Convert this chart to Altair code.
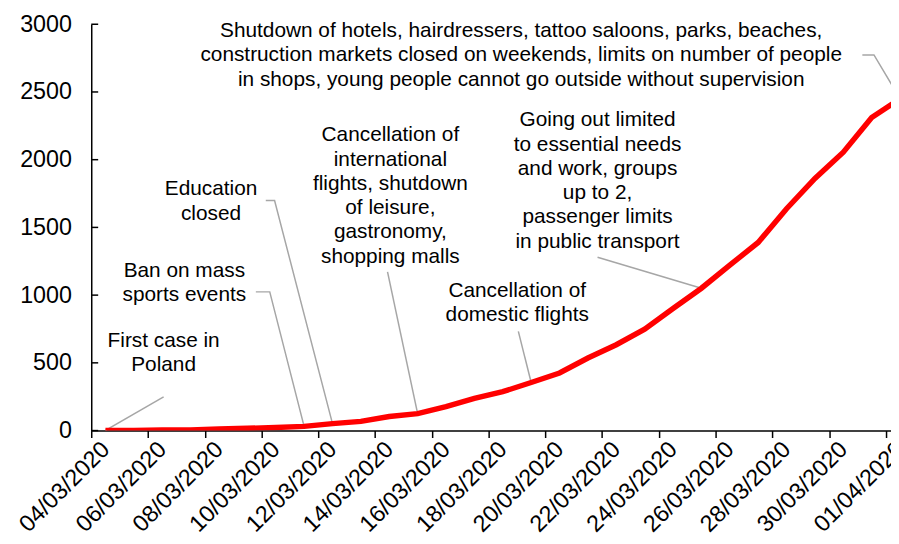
import altair as alt
import pandas as pd

# ---- data ----
dates = ["04/03/2020", "05/03/2020", "06/03/2020", "07/03/2020", "08/03/2020",
         "09/03/2020", "10/03/2020", "11/03/2020", "12/03/2020", "13/03/2020",
         "14/03/2020", "15/03/2020", "16/03/2020", "17/03/2020", "18/03/2020",
         "19/03/2020", "20/03/2020", "21/03/2020", "22/03/2020", "23/03/2020",
         "24/03/2020", "25/03/2020", "26/03/2020", "27/03/2020", "28/03/2020",
         "29/03/2020", "30/03/2020", "31/03/2020", "01/04/2020"]
cases = [1, 1, 5, 5, 11, 17, 22, 31, 51, 68, 104, 125, 177, 238, 287, 355, 425,
         536, 634, 749, 901, 1051, 1221, 1389, 1638, 1862, 2055, 2311, 2450]
y_ticks = [0, 500, 1000, 1500, 2000, 2500, 3000]

ann_text = [
    ["First case in", "Poland"],
    ["Ban on mass", "sports events"],
    ["Education", "closed"],
    ["Cancellation of", "international", "flights, shutdown", "of leisure,",
     "gastronomy,", "shopping malls"],
    ["Cancellation of", "domestic flights"],
    ["Going out limited", "to essential needs", "and work, groups", "up to 2,",
     "passenger limits", "in public transport"],
    ["Shutdown of hotels, hairdressers, tattoo saloons, parks, beaches,",
     "construction markets closed on weekends, limits on number of people",
     "in shops, young people cannot go outside without supervision"],
]
# position of the first line of each note (day index, value)
ann_x = [2.05, 2.78, 3.72, 10.04, 14.51, 17.34, 14.65]
ann_y = [661, 1180, 1780, 2180, 1032, 2290, 2950]

# leader lines: start point, optional elbow x (same height), target day
lead_start_x = [2.05, 5.30, 5.65, 9.94, 14.55, 17.34, 26.67]
lead_start_y = [249, 1024, 1698, 1171, 732, 1280, 2773]
lead_elbow_x = [None, 5.79, 5.96, None, None, None, 27.08]
lead_target = [0, 7, 8, 11, 15, 21, 28]

# ---- tables ----
series = pd.DataFrame({"day": list(range(len(cases))), "cases": cases, "date": dates})

rows = []
for i in range(len(lead_target)):
    seq = 0
    rows.append({"id": i, "seq": seq, "day": lead_start_x[i], "cases": lead_start_y[i]})
    if lead_elbow_x[i] is not None:
        seq += 1
        rows.append({"id": i, "seq": seq, "day": lead_elbow_x[i], "cases": lead_start_y[i]})
    seq += 1
    rows.append({"id": i, "seq": seq, "day": lead_target[i], "cases": cases[lead_target[i]]})
leaders = pd.DataFrame(rows)

notes = pd.DataFrame({"day": ann_x, "cases": ann_y, "lines": ann_text})
ticks_df = pd.DataFrame({"cases": y_ticks})

# ---- layout ----
W, H = 807, 410
n_visible = 28.18
half_cat = W / n_visible / 2
FONT = "Liberation Sans"

label_arr = "[" + ",".join("'" + d + "'" for d in dates) + "]"
x_axis = alt.Axis(
    values=[-0.5 + 2 * k for k in range(15)],
    labelExpr=label_arr + "[round(datum.value + 0.5)]",
    labelOffset=half_cat,
    labelAngle=-45, labelAlign="right", labelBaseline="middle",
    labelPadding=8, labelFontSize=23.5, labelFont=FONT, labelColor="black",
    labelOverlap=False, labelFlush=False,
    tickSize=7, tickColor="black", tickWidth=1.5,
    domainColor="black", domainWidth=1.5, grid=False, title=None,
)
y_axis = alt.Axis(
    values=y_ticks, format="d", ticks=False, tickSize=0, labelPadding=20,
    labelFontSize=23.5, labelFont=FONT, labelColor="black",
    domainColor="black", domainWidth=1.5, grid=False, title=None,
)
X = alt.X("day:Q", scale=alt.Scale(domain=[-0.5, 27.68], nice=False, zero=False), axis=x_axis)
Y = alt.Y("cases:Q", scale=alt.Scale(domain=[0, 3000], nice=False), axis=y_axis)

line = alt.Chart(series).mark_line(color="#FF0000", strokeWidth=5.5, clip=True).encode(
    x=X, y=Y, order="day:Q")

lead = alt.Chart(leaders).mark_line(color="#A6A6A6", strokeWidth=1.5, clip=True).encode(
    x=X, y=Y, detail="id:N", order="seq:Q")

text = alt.Chart(notes).mark_text(
    font=FONT, fontSize=21, color="black", align="center", baseline="middle",
    lineHeight=24.5).encode(x=X, y=Y, text="lines")

yticks = alt.Chart(ticks_df).mark_rule(color="black", strokeWidth=1.5).encode(
    y=Y, x=alt.value(0), x2=alt.value(7))

chart = alt.layer(lead, line, yticks, text).properties(
    width=W, height=H,
    autosize=alt.AutoSizeParams(type="none"),
    padding={"left": 84, "top": 14, "right": 0, "bottom": 104},
    background="white",
).configure_view(stroke=None)

chart.save("out.html", embed_options={"renderer": "svg", "actions": False})
